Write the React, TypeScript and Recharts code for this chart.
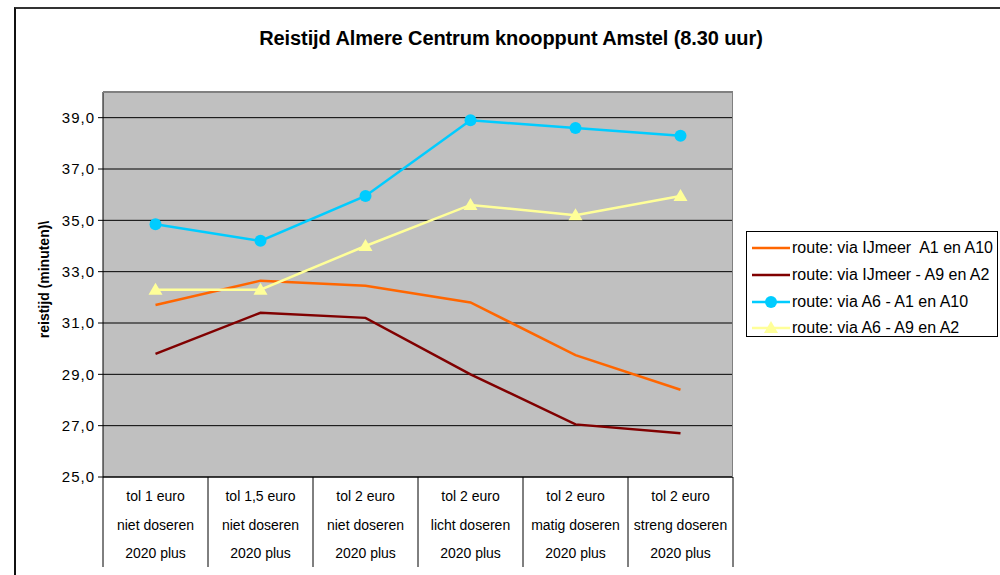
import React from 'react';
import { LineChart, Line, XAxis, YAxis, CartesianGrid, Legend } from 'recharts';

// Category labels (three lines under each category)
const tolLabels = ['tol 1 euro', 'tol 1,5 euro', 'tol 2 euro', 'tol 2 euro', 'tol 2 euro', 'tol 2 euro'];
const doseerLabels = ['niet doseren', 'niet doseren', 'niet doseren', 'licht doseren', 'matig doseren', 'streng doseren'];
const planLabels = ['2020 plus', '2020 plus', '2020 plus', '2020 plus', '2020 plus', '2020 plus'];

// Travel time in minutes per route
const ijmeerA1A10 = [31.7, 32.65, 32.45, 31.8, 29.75, 28.4];
const ijmeerA9A2 = [29.8, 31.4, 31.2, 29.0, 27.05, 26.7];
const a6A1A10 = [34.85, 34.2, 35.95, 38.9, 38.6, 38.3];
const a6A9A2 = [32.3, 32.3, 34.0, 35.6, 35.2, 35.95];

const yTicks = [25, 27, 29, 31, 33, 35, 37, 39];
const yDomain = [25, 40];

const FONT = '"Liberation Sans", Arial, sans-serif';
const PLOT_W = 630;

const series = [
  { key: 'ijmeerA1A10', name: 'route: via IJmeer  A1 en A10', color: '#FF6600', marker: 'none' },
  { key: 'ijmeerA9A2', name: 'route: via IJmeer - A9 en A2', color: '#800000', marker: 'none' },
  { key: 'a6A1A10', name: 'route: via A6 - A1 en A10', color: '#00CCFF', marker: 'circle' },
  { key: 'a6A9A2', name: 'route: via A6 - A9 en A2', color: '#FFFF99', marker: 'triangle' },
];

const data = tolLabels.map((tol, i) => ({
  label: `${tol} ${doseerLabels[i]}`,
  ijmeerA1A10: ijmeerA1A10[i],
  ijmeerA9A2: ijmeerA9A2[i],
  a6A1A10: a6A1A10[i],
  a6A9A2: a6A9A2[i],
}));

const Triangle = (props: any) => {
  const { cx, cy, fill } = props;
  if (cx == null || cy == null) return null;
  return <polygon points={`${cx},${cy - 7} ${cx + 7},${cy + 5} ${cx - 7},${cy + 5}`} fill={fill} />;
};

const Circle = (props: any) => {
  const { cx, cy, fill } = props;
  if (cx == null || cy == null) return null;
  return <circle cx={cx} cy={cy} r={6} fill={fill} />;
};

const CategoryTick = (props: any) => {
  const { x, y, payload } = props;
  const i = payload.index;
  const half = PLOT_W / tolLabels.length / 2;
  return (
    <g>
      <line x1={x - half} y1={y} x2={x - half} y2={y + 90} stroke="#000" />
      {i === tolLabels.length - 1 && <line x1={x + half} y1={y} x2={x + half} y2={y + 90} stroke="#000" />}
      <text x={x} textAnchor="middle" fontSize={14} fontFamily={FONT} fill="#000">
        <tspan x={x} y={y + 24}>{tolLabels[i]}</tspan>
        <tspan x={x} y={y + 53}>{doseerLabels[i]}</tspan>
        <tspan x={x} y={y + 81}>{planLabels[i]}</tspan>
      </text>
    </g>
  );
};

const YLabel = (props: any) => {
  const { viewBox } = props;
  const cx = viewBox.x + 1;
  const cy = viewBox.y + viewBox.height / 2 - 5;
  return (
    <text
      x={cx}
      y={cy}
      transform={`rotate(-90 ${cx} ${cy})`}
      textAnchor="middle"
      dominantBaseline="central"
      fontSize={14}
      fontWeight="bold"
      fontFamily={FONT}
      fill="#000"
    >
      reistijd (minuten)\
    </text>
  );
};

const LegendBox = () => (
  <div
    style={{
      border: '1px solid #000',
      background: '#fff',
      boxSizing: 'border-box',
      width: '100%',
      height: '100%',
      padding: '3px 0 0 5px',
      fontFamily: FONT,
      fontSize: 16,
    }}
  >
    {series.map((s) => (
      <div key={s.key} style={{ display: 'flex', alignItems: 'center', height: 26.7, whiteSpace: 'pre' }}>
        <svg width={38} height={16} style={{ marginRight: 2 }}>
          <line x1={0} y1={8} x2={38} y2={8} stroke={s.color} strokeWidth={2.5} />
          {s.marker === 'circle' && <circle cx={19} cy={8} r={6} fill={s.color} />}
          {s.marker === 'triangle' && <polygon points="19,1 26,13 12,13" fill={s.color} />}
        </svg>
        <span>{s.name}</span>
      </div>
    ))}
  </div>
);

export default function App() {
  return (
    <div style={{ position: 'absolute', left: 0, top: 0, width: 1000, height: 575, overflow: 'hidden', background: '#fff' }}>
      {/* outer chart frame */}
      <div
        style={{
          position: 'absolute',
          left: 14,
          top: 7,
          width: 1000,
          height: 600,
          borderTop: '2px solid #333',
          borderLeft: '2px solid #111',
        }}
      />
      <div
        style={{
          position: 'absolute',
          left: 0,
          top: 27,
          width: 1022,
          textAlign: 'center',
          fontFamily: FONT,
          fontWeight: 'bold',
          fontSize: 20,
          letterSpacing: -0.1,
        }}
      >
        Reistijd Almere Centrum knooppunt Amstel (8.30 uur)
      </div>
      <div style={{ position: 'absolute', left: 0, top: 0 }}>
        <LineChart width={1000} height={575} data={data} margin={{ top: 92, right: 267, bottom: 8, left: 43 }}>
          <CartesianGrid fill="#C0C0C0" fillOpacity={1} stroke="#000" vertical={false} />
          <XAxis
            dataKey="label"
            scale="band"
            interval={0}
            height={90}
            tickLine={false}
            tickSize={0}
            tickMargin={0}
            axisLine={{ stroke: '#000' }}
            tick={<CategoryTick />}
          />
          <YAxis
            width={60}
            domain={yDomain}
            ticks={yTicks}
            type="number"
            tickSize={5}
            tickMargin={3}
            tickLine={{ stroke: '#000' }}
            axisLine={{ stroke: '#000' }}
            tick={{ fill: '#000', fontSize: 15, fontFamily: FONT, letterSpacing: 1 }}
            tickFormatter={(v: number) => v.toFixed(1).replace('.', ',')}
            label={<YLabel />}
          />
          <Legend
            layout="vertical"
            align="center"
            verticalAlign="middle"
            wrapperStyle={{ left: 746, top: 231, width: 252, height: 106 }}
            content={<LegendBox />}
          />
          {series.map((s) => (
            <Line
              key={s.key}
              dataKey={s.key}
              name={s.name}
              type="linear"
              stroke={s.color}
              strokeWidth={2.5}
              fill={s.color}
              dot={s.marker === 'circle' ? <Circle /> : s.marker === 'triangle' ? <Triangle /> : false}
              activeDot={false}
              isAnimationActive={false}
            />
          ))}
        </LineChart>
      </div>
      {/* plot area border (top and right) */}
      <div
        style={{
          position: 'absolute',
          left: 103,
          top: 92,
          width: 630,
          height: 385,
          borderTop: '1px solid #808080',
          borderRight: '1px solid #808080',
          boxSizing: 'border-box',
          pointerEvents: 'none',
        }}
      />
    </div>
  );
}
